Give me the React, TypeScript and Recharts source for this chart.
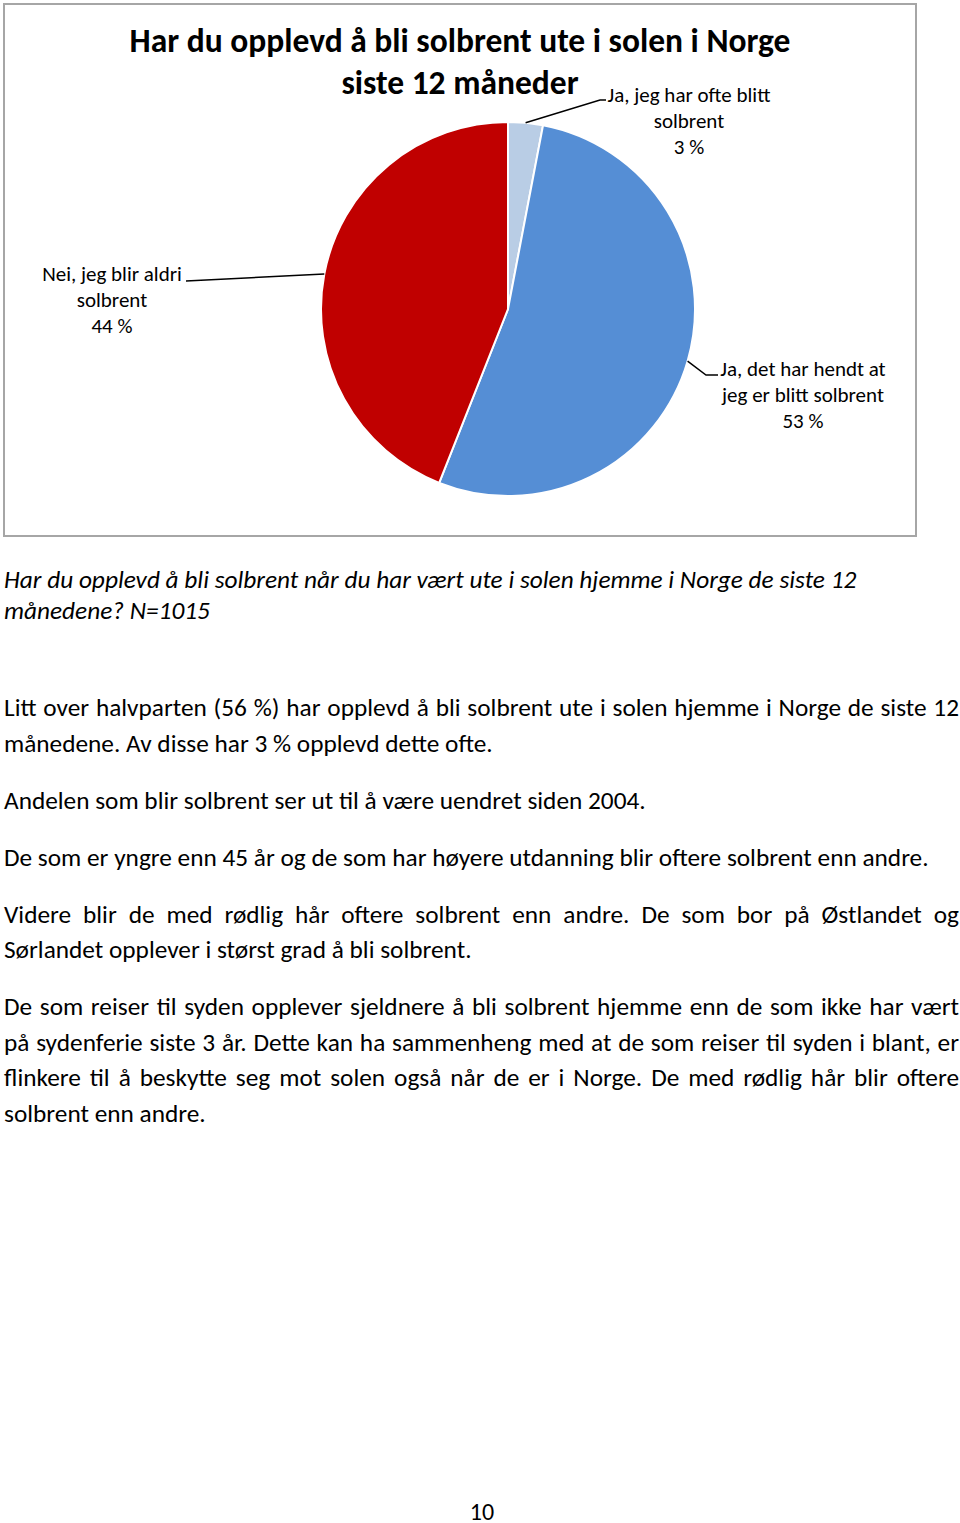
import React from 'react';
import { PieChart, Pie, Cell } from 'recharts';

const categories = ['Ja, jeg har ofte blitt solbrent', 'Ja, det har hendt at jeg er blitt solbrent', 'Nei, jeg blir aldri solbrent'];
const labelLines = [
  ['Ja, jeg har ofte blitt', 'solbrent'],
  ['Ja, det har hendt at', 'jeg er blitt solbrent'],
  ['Nei, jeg blir aldri', 'solbrent'],
];
const values = [3, 53, 44];
const COLORS = ['#B9CDE5', '#558ED5', '#C00000'];

const chartData = categories.map((name, i) => ({ name, value: values[i] }));

// where each label sits (page coords): leader elbow, leader end, text centre, first baseline
const LABEL_LAYOUT = [
  { elbow: [600, 100], end: [606, 100], tx: 689, ty: 102 },
  { elbow: [706, 375], end: [718, 375], tx: 803, ty: 376 },
  { elbow: [186, 281], end: [186, 281], tx: 112, ty: 281 },
];

const FONT = 'Carlito, Lato, "Open Sans", sans-serif';
const RAD = Math.PI / 180;

const renderLabel = (props: any) => {
  const { cx, cy, midAngle, outerRadius, index, value } = props;
  const lay = LABEL_LAYOUT[index];
  const sx = cx + outerRadius * Math.cos(-midAngle * RAD);
  const sy = cy + outerRadius * Math.sin(-midAngle * RAD);
  const lines = [...labelLines[index], `${value} %`];
  return (
    <g key={`lbl-${index}`}>
      <polyline
        points={`${sx},${sy} ${lay.elbow[0]},${lay.elbow[1]} ${lay.end[0]},${lay.end[1]}`}
        fill="none"
        stroke="#000"
        strokeWidth={1.5}
      />
      <text x={lay.tx} y={lay.ty} textAnchor="middle" fontFamily={FONT} fontSize={21} fill="#000">
        {lines.map((l, i) => (
          <tspan key={i} x={lay.tx} dy={i === 0 ? 0 : 26}>{l}</tspan>
        ))}
      </text>
    </g>
  );
};

const caption = [
  'Har du opplevd å bli solbrent når du har vært ute i solen hjemme i Norge de siste 12',
  'månedene? N=1015',
];

const paragraphs: { lines: string[]; justify: boolean }[] = [
  {
    lines: [
      'Litt over halvparten (56 %) har opplevd å bli solbrent ute i solen hjemme i Norge de siste 12',
      'månedene. Av disse har 3 % opplevd dette ofte.',
    ],
    justify: true,
  },
  { lines: ['Andelen som blir solbrent ser ut til å være uendret siden 2004.'], justify: false },
  { lines: ['De som er yngre enn 45 år og de som har høyere utdanning blir oftere solbrent enn andre.'], justify: false },
  {
    lines: [
      'Videre blir de med rødlig hår oftere solbrent enn andre. De som bor på Østlandet og',
      'Sørlandet opplever i størst grad å bli solbrent.',
    ],
    justify: true,
  },
  {
    lines: [
      'De som reiser til syden opplever sjeldnere å bli solbrent hjemme enn de som ikke har vært',
      'på sydenferie siste 3 år. Dette kan ha sammenheng med at de som reiser til syden i blant, er',
      'flinkere til å beskytte seg mot solen også når de er i Norge. De med rødlig hår blir oftere',
      'solbrent enn andre.',
    ],
    justify: true,
  },
];

const App: React.FC = () => {
  return (
    <div style={{ position: 'relative', width: 960, height: 1523, background: '#fff', fontFamily: FONT, color: '#000', overflow: 'hidden' }}>
      <style>{'body{margin:0}'}</style>

      {/* chart frame */}
      <div style={{ position: 'absolute', left: 3, top: 3, width: 910, height: 530, border: '2px solid #A6A6A6' }} />

      <div style={{ position: 'absolute', left: 3, top: 20, width: 914, textAlign: 'center', fontWeight: 'bold', fontSize: 33.5, lineHeight: '42px' }}>
        <div>Har du opplevd å bli solbrent ute i solen i Norge</div>
        <div>siste 12 måneder</div>
      </div>

      <div style={{ position: 'absolute', left: 0, top: 0 }}>
        <PieChart width={960} height={540} margin={{ top: 0, right: 0, bottom: 0, left: 0 }}>
          <Pie
            data={chartData}
            dataKey="value"
            cx={508}
            cy={309}
            outerRadius={187}
            startAngle={90}
            endAngle={-270}
            stroke="#fff"
            strokeWidth={2}
            label={renderLabel}
            labelLine={false}
            isAnimationActive={false}
          >
            {chartData.map((entry, index) => (
              <Cell key={`cell-${index}`} fill={COLORS[index % COLORS.length]} />
            ))}
          </Pie>
        </PieChart>
      </div>

      {/* caption */}
      <div style={{ position: 'absolute', left: 4, top: 564, fontStyle: 'italic', fontSize: 25.3, lineHeight: '31px' }}>
        {caption.map((l, i) => <div key={i}>{l}</div>)}
      </div>

      {/* body text */}
      <div style={{ position: 'absolute', left: 4, top: 690, width: 955, fontSize: 25.3, lineHeight: '35.5px' }}>
        {paragraphs.map((p, pi) => (
          <div key={pi} style={{ marginBottom: 21.5 }}>
            {p.lines.map((l, li) => (
              <div
                key={li}
                style={{ whiteSpace: 'nowrap', textAlign: p.justify && li < p.lines.length - 1 ? 'justify' : 'left', textAlignLast: p.justify && li < p.lines.length - 1 ? 'justify' : 'left' } as React.CSSProperties}
              >
                {l}
              </div>
            ))}
          </div>
        ))}
      </div>

      <div style={{ position: 'absolute', left: 0, top: 1502, width: 964, textAlign: 'center', fontSize: 24, lineHeight: '20px' }}>10</div>
    </div>
  );
};

export default App;
